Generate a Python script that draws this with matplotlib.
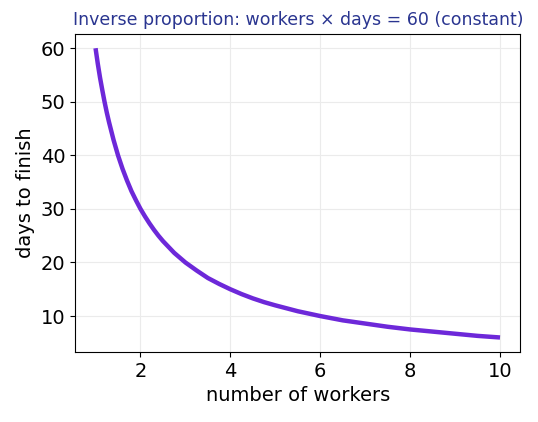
import matplotlib
matplotlib.use("Agg")
import matplotlib.pyplot as plt

# values (workers, days)
workers = [1.0, 1.05, 1.1, 1.15, 1.2, 1.25, 1.3, 1.4, 1.5, 1.6, 1.7, 1.8, 1.9, 2.0,
           2.1, 2.2, 2.3, 2.4, 2.5, 2.75, 3.0, 3.25, 3.5, 3.75, 4.0, 4.25, 4.5, 4.75, 5.0,
           5.5, 6.0, 6.5, 7.0, 7.5, 8.0, 8.5, 9.0, 9.5, 10.0]
days = [60.0, 57.1, 54.5, 52.2, 50.0, 48.0, 46.2, 42.9, 40.0, 37.5, 35.3, 33.3, 31.6, 30.0,
        28.6, 27.3, 26.1, 25.0, 24.0, 21.8, 20.0, 18.5, 17.1, 16.0, 15.0, 14.1, 13.3, 12.6, 12.0,
        10.9, 10.0, 9.2, 8.6, 8.0, 7.5, 7.1, 6.7, 6.3, 6.0]
xticks = [2, 4, 6, 8, 10]
yticks = [10, 20, 30, 40, 50, 60]

fig, ax = plt.subplots(figsize=(5.38, 4.22), dpi=100)
ax.plot(workers, days, color="#6d28d9", linewidth=3.2, solid_capstyle="butt",
        solid_joinstyle="round")
ax.set_xticks(xticks)
ax.set_yticks(yticks)
ax.grid(True, color="#ebebeb", linewidth=0.8)
ax.set_axisbelow(True)
ax.tick_params(labelsize=14)
ax.set_xlabel("number of workers", fontsize=14)
ax.set_ylabel("days to finish", fontsize=14)
ax.set_title("Inverse proportion: workers \u00d7 days = 60 (constant)",
             fontsize=12.5, color="#2a3590")
fig.subplots_adjust(left=0.14, right=0.967, top=0.92, bottom=0.166)
fig.savefig("out.png", dpi=100)
